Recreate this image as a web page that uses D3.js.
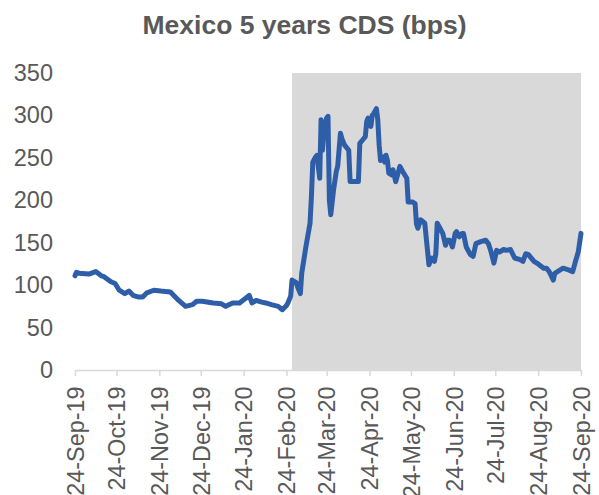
<!DOCTYPE html>
<html>
<head>
<meta charset="utf-8">
<script src="https://cdn.jsdelivr.net/npm/d3@7"></script>
<style>
  html, body { margin: 0; padding: 0; background: #fff; }
  svg { display: block; }
  text { font-family: "Liberation Sans", Arial, sans-serif; fill: #595959; }
</style>
</head>
<body>
<svg id="chart" width="599" height="495"></svg>
<script>
const titleText = "Mexico 5 years CDS (bps)";

const dates = [
  "2019-09-24","2019-09-25","2019-09-27","2019-10-04","2019-10-09","2019-10-13","2019-10-15","2019-10-20","2019-10-23","2019-10-26",
  "2019-10-30","2019-11-02","2019-11-05","2019-11-09","2019-11-12","2019-11-15","2019-11-20","2019-11-25","2019-12-02","2019-12-05",
  "2019-12-08","2019-12-13","2019-12-18","2019-12-21","2019-12-25","2020-01-02","2020-01-08","2020-01-11","2020-01-16","2020-01-21",
  "2020-01-25","2020-01-28","2020-01-30","2020-02-02","2020-02-06","2020-02-09","2020-02-13","2020-02-18","2020-02-21","2020-02-24",
  "2020-02-25","2020-02-27","2020-02-28","2020-03-02","2020-03-03","2020-03-05","2020-03-06","2020-03-09","2020-03-12","2020-03-13",
  "2020-03-14","2020-03-16","2020-03-17","2020-03-19","2020-03-20","2020-03-21","2020-03-22","2020-03-24","2020-03-25","2020-03-26",
  "2020-03-27","2020-03-29","2020-03-31","2020-04-01","2020-04-03","2020-04-04","2020-04-06","2020-04-09","2020-04-10","2020-04-16",
  "2020-04-17","2020-04-19","2020-04-21","2020-04-22","2020-04-23","2020-04-25","2020-04-26","2020-04-27","2020-04-29","2020-04-30",
  "2020-05-01","2020-05-02","2020-05-04","2020-05-05","2020-05-06","2020-05-07","2020-05-08","2020-05-10","2020-05-11","2020-05-13",
  "2020-05-16","2020-05-18","2020-05-21","2020-05-22","2020-05-25","2020-05-27","2020-05-28","2020-05-29","2020-05-31","2020-06-03",
  "2020-06-06","2020-06-07","2020-06-08","2020-06-10","2020-06-11","2020-06-12","2020-06-14","2020-06-16","2020-06-18","2020-06-19",
  "2020-06-21","2020-06-23","2020-06-25","2020-06-26","2020-06-28","2020-06-30","2020-07-01","2020-07-03","2020-07-06","2020-07-08",
  "2020-07-10","2020-07-13","2020-07-17","2020-07-19","2020-07-21","2020-07-23","2020-07-25","2020-07-27","2020-07-30","2020-08-01",
  "2020-08-04","2020-08-07","2020-08-11","2020-08-13","2020-08-15","2020-08-17","2020-08-21","2020-08-24","2020-08-28","2020-08-30",
  "2020-09-01","2020-09-04","2020-09-05","2020-09-09","2020-09-11","2020-09-15","2020-09-18","2020-09-20","2020-09-22","2020-09-24"
];

const cds = [
  111,115,114,113,116,111,110,104,102,94,
  90,93,88,86,86,91,94,93,92,87,
  82,75,77,81,81,79,78,75,79,79,
  84,88,79,82,80,79,77,75,71,76,
  79,87,106,103,98,90,114,145,173,204,
  245,251,253,226,295,259,279,297,299,200,
  183,212,234,240,279,273,265,259,222,222,
  267,271,275,293,297,287,300,302,308,295,
  265,247,251,245,253,247,232,230,236,222,
  240,234,226,198,198,196,172,167,177,173,
  124,128,132,128,137,173,167,161,147,153,
  153,145,161,163,157,161,161,145,136,134,
  149,151,153,149,139,126,141,139,142,141,
  142,132,130,128,137,136,128,125,120,120,
  116,106,114,118,120,118,116,128,139,161
];

const tickDates = [
  "2019-09-24","2019-10-24","2019-11-24","2019-12-24","2020-01-24","2020-02-24",
  "2020-03-24","2020-04-24","2020-05-24","2020-06-24","2020-07-24","2020-08-24","2020-09-24"
];
const yTicks = [0, 50, 100, 150, 200, 250, 300, 350];
const shadeStart = "2020-02-28";
const shadeEnd = "2020-09-24";

const parse = d3.utcParse("%Y-%m-%d");
const series = dates.map((d, i) => ({ date: parse(d), value: cds[i] }));

const svg = d3.select("#chart");
const pLeft = 75, pRight = 581, pTop = 73, pBottom = 370;

const x = d3.scaleUtc()
  .domain([parse(tickDates[0]), parse(tickDates[tickDates.length - 1])])
  .range([pLeft, pRight]);
const y = d3.scaleLinear().domain([0, 350]).range([pBottom, pTop]);

// shaded period
svg.append("rect")
  .attr("x", x(parse(shadeStart)))
  .attr("y", y(350))
  .attr("width", x(parse(shadeEnd)) - x(parse(shadeStart)))
  .attr("height", y(0) - y(350))
  .attr("fill", "#d9d9d9");

// title
svg.append("text")
  .attr("x", 304.5)
  .attr("y", 34)
  .attr("text-anchor", "middle")
  .style("font-size", "26.5px")
  .style("font-weight", "bold")
  .text(titleText);

// y axis (labels only)
const yAxis = svg.append("g")
  .attr("transform", `translate(${pLeft},0)`)
  .call(d3.axisLeft(y).tickValues(yTicks).tickSize(0).tickPadding(22).tickFormat(d3.format("d")));
yAxis.select(".domain").remove();
yAxis.selectAll("text")
  .style("font-size", "23.5px")
  .style("font-family", "'Liberation Sans', Arial, sans-serif")
  .attr("fill", "#595959");

// x axis
const xAxis = svg.append("g")
  .attr("transform", `translate(0,${pBottom})`)
  .call(d3.axisBottom(x)
    .tickValues(tickDates.map(parse))
    .tickSize(6)
    .tickSizeOuter(0)
    .tickFormat(d3.utcFormat("%d-%b-%y")));
xAxis.select(".domain").attr("stroke", "#d9d9d9").attr("stroke-width", 1.5);
xAxis.selectAll(".tick line").attr("stroke", "#d9d9d9").attr("stroke-width", 1.5);
xAxis.selectAll("text")
  .style("font-size", "23.4px")
  .style("font-family", "'Liberation Sans', Arial, sans-serif")
  .attr("fill", "#595959")
  .attr("text-anchor", "end")
  .attr("transform", "rotate(-90)")
  .attr("x", -16.5)
  .attr("y", 0)
  .attr("dy", "0.35em");

// line
const line = d3.line()
  .x(d => x(d.date))
  .y(d => y(d.value));

svg.append("path")
  .datum(series)
  .attr("d", line)
  .attr("fill", "none")
  .attr("stroke", "#2f5ea8")
  .attr("stroke-width", 5)
  .attr("stroke-linejoin", "round")
  .attr("stroke-linecap", "round");
</script>
</body>
</html>
